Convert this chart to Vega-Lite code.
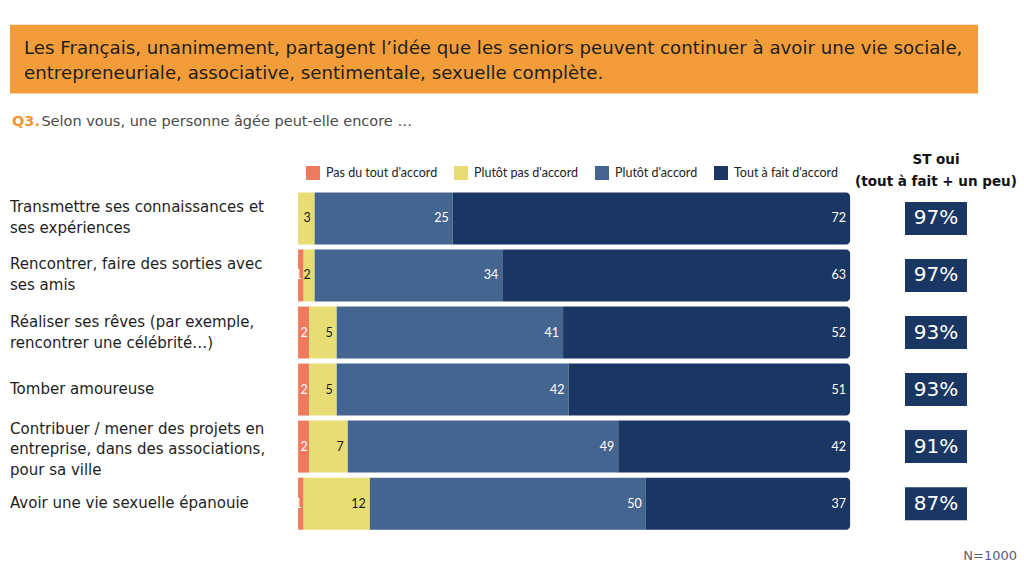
{
  "$schema": "https://vega.github.io/schema/vega-lite/v6.json",
  "width": 1024,
  "height": 576,
  "autosize": {"type": "fit", "contains": "padding"},
  "padding": 0,
  "background": "#ffffff",
  "config": {"view": {"stroke": null}, "text": {"font": "DejaVu Sans"}},
  "datasets": {
    "bars": [
      {"row": 1, "cat": "Plutôt pas d'accord", "rank": 2, "value": 3},
      {"row": 1, "cat": "Plutôt d'accord", "rank": 3, "value": 25},
      {"row": 1, "cat": "Tout à fait d'accord", "rank": 4, "value": 72},
      {"row": 2, "cat": "Pas du tout d'accord", "rank": 1, "value": 1},
      {"row": 2, "cat": "Plutôt pas d'accord", "rank": 2, "value": 2},
      {"row": 2, "cat": "Plutôt d'accord", "rank": 3, "value": 34},
      {"row": 2, "cat": "Tout à fait d'accord", "rank": 4, "value": 63},
      {"row": 3, "cat": "Pas du tout d'accord", "rank": 1, "value": 2},
      {"row": 3, "cat": "Plutôt pas d'accord", "rank": 2, "value": 5},
      {"row": 3, "cat": "Plutôt d'accord", "rank": 3, "value": 41},
      {"row": 3, "cat": "Tout à fait d'accord", "rank": 4, "value": 52},
      {"row": 4, "cat": "Pas du tout d'accord", "rank": 1, "value": 2},
      {"row": 4, "cat": "Plutôt pas d'accord", "rank": 2, "value": 5},
      {"row": 4, "cat": "Plutôt d'accord", "rank": 3, "value": 42},
      {"row": 4, "cat": "Tout à fait d'accord", "rank": 4, "value": 51},
      {"row": 5, "cat": "Pas du tout d'accord", "rank": 1, "value": 2},
      {"row": 5, "cat": "Plutôt pas d'accord", "rank": 2, "value": 7},
      {"row": 5, "cat": "Plutôt d'accord", "rank": 3, "value": 49},
      {"row": 5, "cat": "Tout à fait d'accord", "rank": 4, "value": 42},
      {"row": 6, "cat": "Pas du tout d'accord", "rank": 1, "value": 1},
      {"row": 6, "cat": "Plutôt pas d'accord", "rank": 2, "value": 12},
      {"row": 6, "cat": "Plutôt d'accord", "rank": 3, "value": 50},
      {"row": 6, "cat": "Tout à fait d'accord", "rank": 4, "value": 37}
    ],
    "items": [
      {"row": 1, "lines": 2, "label": "Transmettre ses connaissances et\nses expériences", "st": "97%"},
      {"row": 2, "lines": 2, "label": "Rencontrer, faire des sorties avec\nses amis", "st": "97%"},
      {"row": 3, "lines": 2, "label": "Réaliser ses rêves (par exemple,\nrencontrer une célébrité…)", "st": "93%"},
      {"row": 4, "lines": 1, "label": "Tomber amoureuse", "st": "93%"},
      {"row": 5, "lines": 3, "label": "Contribuer / mener des projets en\nentreprise, dans des associations,\npour sa ville", "st": "91%"},
      {"row": 6, "lines": 1, "label": "Avoir une vie sexuelle épanouie", "st": "87%"}
    ]
  },
  "layer": [
    {
      "data": {"values": [{"box": "header"}]},
      "mark": {"type": "rect", "color": "#F39C3A"},
      "encoding": {
        "x": {"datum": -52.19, "type": "quantitative", "scale": {"domain": [-54, 131.5], "nice": false, "zero": false}, "axis": null},
        "x2": {"datum": 123.17},
        "y": {"datum": -2.396, "type": "quantitative", "scale": {"domain": [-2.74, 7.18], "nice": false, "zero": false, "reverse": true}, "axis": null},
        "y2": {"datum": -1.19}
      }
    },
    {
      "data": {"values": [{"t": "Les Français, unanimement, partagent l’idée que les seniors peuvent continuer à avoir une vie sociale,\nentrepreneuriale, associative, sentimentale, sexuelle complète."}]},
      "mark": {"type": "text", "align": "left", "baseline": "middle", "fontSize": 18.2, "lineHeight": 25, "color": "#1e1e1e", "lineBreak": "\n"},
      "encoding": {
        "x": {"datum": -49.65, "type": "quantitative", "scale": {"domain": [-54, 131.5], "nice": false, "zero": false}, "axis": null},
        "y": {"datum": -1.965, "type": "quantitative", "scale": {"domain": [-2.74, 7.18], "nice": false, "zero": false, "reverse": true}, "axis": null},
        "text": {"field": "t"}
      }
    },
    {
      "data": {"values": [{"t": "Q3."}]},
      "mark": {"type": "text", "align": "left", "baseline": "middle", "fontSize": 14.5, "fontWeight": "bold", "color": "#F0962F"},
      "encoding": {
        "x": {"datum": -51.83, "type": "quantitative", "scale": {"domain": [-54, 131.5], "nice": false, "zero": false}, "axis": null},
        "y": {"datum": -0.691, "type": "quantitative", "scale": {"domain": [-2.74, 7.18], "nice": false, "zero": false, "reverse": true}, "axis": null},
        "text": {"field": "t"}
      }
    },
    {
      "data": {"values": [{"t": "Selon vous, une personne âgée peut-elle encore …"}]},
      "mark": {"type": "text", "align": "left", "baseline": "middle", "fontSize": 14.5, "color": "#4a4a4a"},
      "encoding": {
        "x": {"datum": -46.5, "type": "quantitative", "scale": {"domain": [-54, 131.5], "nice": false, "zero": false}, "axis": null},
        "y": {"datum": -0.691, "type": "quantitative", "scale": {"domain": [-2.74, 7.18], "nice": false, "zero": false, "reverse": true}, "axis": null},
        "text": {"field": "t"}
      }
    },
    {
      "data": {"name": "bars"},
      "transform": [
        {"stack": "value", "groupby": ["row"], "sort": [{"field": "rank", "order": "ascending"}], "as": ["x0", "x1"]},
        {"filter": "datum.rank < 4"}
      ],
      "mark": {"type": "bar", "orient": "horizontal", "size": 52},
      "encoding": {
        "x": {"field": "x0", "type": "quantitative", "scale": {"domain": [-54, 131.5], "nice": false, "zero": false}, "axis": null},
        "x2": {"field": "x1"},
        "y": {"field": "row", "type": "quantitative", "scale": {"domain": [-2.74, 7.18], "nice": false, "zero": false, "reverse": true}, "axis": null},
        "color": {
          "field": "cat", "type": "nominal",
          "scale": {"domain": ["Pas du tout d'accord", "Plutôt pas d'accord", "Plutôt d'accord", "Tout à fait d'accord"], "range": ["#EF7A5D", "#E8DD75", "#44658F", "#1A3763"]},
          "legend": {"orient": "none", "legendX": 306, "legendY": 166, "direction": "horizontal", "title": null, "symbolType": "square", "symbolSize": 196, "symbolStrokeWidth": 0, "labelFont": "Lato", "labelFontSize": 12.5, "labelColor": "#222222", "columnPadding": 16, "labelOffset": 6}
        }
      }
    },
    {
      "data": {"name": "bars"},
      "transform": [
        {"stack": "value", "groupby": ["row"], "sort": [{"field": "rank", "order": "ascending"}], "as": ["x0", "x1"]},
        {"filter": "datum.rank == 4"}
      ],
      "mark": {"type": "bar", "orient": "horizontal", "size": 52, "cornerRadiusTopRight": 4, "cornerRadiusBottomRight": 4},
      "encoding": {
        "x": {"field": "x0", "type": "quantitative", "scale": {"domain": [-54, 131.5], "nice": false, "zero": false}, "axis": null},
        "x2": {"field": "x1"},
        "y": {"field": "row", "type": "quantitative", "scale": {"domain": [-2.74, 7.18], "nice": false, "zero": false, "reverse": true}, "axis": null},
        "color": {"field": "cat", "type": "nominal"}
      }
    },
    {
      "data": {"name": "bars"},
      "transform": [
        {"stack": "value", "groupby": ["row"], "sort": [{"field": "rank", "order": "ascending"}], "as": ["x0", "x1"]},
        {"filter": "datum.rank == 1"}
      ],
      "mark": {"type": "text", "align": "right", "baseline": "middle", "dx": -1.5, "font": "Lato", "fontSize": 12.5, "color": "#ffffff"},
      "encoding": {
        "x": {"field": "x1", "type": "quantitative", "scale": {"domain": [-54, 131.5], "nice": false, "zero": false}, "axis": null},
        "y": {"field": "row", "type": "quantitative", "scale": {"domain": [-2.74, 7.18], "nice": false, "zero": false, "reverse": true}, "axis": null},
        "text": {"field": "value", "type": "quantitative"}
      }
    },
    {
      "data": {"name": "bars"},
      "transform": [
        {"stack": "value", "groupby": ["row"], "sort": [{"field": "rank", "order": "ascending"}], "as": ["x0", "x1"]},
        {"filter": "datum.rank == 2"}
      ],
      "mark": {"type": "text", "align": "right", "baseline": "middle", "dx": -4, "font": "Lato", "fontSize": 12.5, "color": "#1a1a1a"},
      "encoding": {
        "x": {"field": "x1", "type": "quantitative", "scale": {"domain": [-54, 131.5], "nice": false, "zero": false}, "axis": null},
        "y": {"field": "row", "type": "quantitative", "scale": {"domain": [-2.74, 7.18], "nice": false, "zero": false, "reverse": true}, "axis": null},
        "text": {"field": "value", "type": "quantitative"}
      }
    },
    {
      "data": {"name": "bars"},
      "transform": [
        {"stack": "value", "groupby": ["row"], "sort": [{"field": "rank", "order": "ascending"}], "as": ["x0", "x1"]},
        {"filter": "datum.rank >= 3"}
      ],
      "mark": {"type": "text", "align": "right", "baseline": "middle", "dx": -4, "font": "Lato", "fontSize": 12.5, "color": "#ffffff"},
      "encoding": {
        "x": {"field": "x1", "type": "quantitative", "scale": {"domain": [-54, 131.5], "nice": false, "zero": false}, "axis": null},
        "y": {"field": "row", "type": "quantitative", "scale": {"domain": [-2.74, 7.18], "nice": false, "zero": false, "reverse": true}, "axis": null},
        "text": {"field": "value", "type": "quantitative"}
      }
    },
    {
      "data": {"values": [{"t": "ST oui\n(tout à fait + un peu)"}]},
      "mark": {"type": "text", "align": "center", "baseline": "middle", "fontSize": 13.5, "fontWeight": "bold", "lineHeight": 22, "color": "#111111", "lineBreak": "\n"},
      "encoding": {
        "x": {"datum": 115.56, "type": "quantitative", "scale": {"domain": [-54, 131.5], "nice": false, "zero": false}, "axis": null},
        "y": {"datum": -0.019, "type": "quantitative", "scale": {"domain": [-2.74, 7.18], "nice": false, "zero": false, "reverse": true}, "axis": null},
        "text": {"field": "t"}
      }
    },
    {
      "data": {"name": "items"},
      "mark": {"type": "bar", "orient": "horizontal", "size": 33, "color": "#1A3763"},
      "encoding": {
        "x": {"datum": 109.94, "type": "quantitative", "scale": {"domain": [-54, 131.5], "nice": false, "zero": false}, "axis": null},
        "x2": {"datum": 121.17},
        "y": {"field": "row", "type": "quantitative", "scale": {"domain": [-2.74, 7.18], "nice": false, "zero": false, "reverse": true}, "axis": null}
      }
    },
    {
      "data": {"name": "items"},
      "mark": {"type": "text", "align": "center", "baseline": "middle", "fontSize": 20, "color": "#ffffff"},
      "encoding": {
        "x": {"datum": 115.56, "type": "quantitative", "scale": {"domain": [-54, 131.5], "nice": false, "zero": false}, "axis": null},
        "y": {"field": "row", "type": "quantitative", "scale": {"domain": [-2.74, 7.18], "nice": false, "zero": false, "reverse": true}, "axis": null},
        "text": {"field": "st"}
      }
    },
    {
      "data": {"name": "items"},
      "transform": [{"filter": "datum.lines == 1"}],
      "mark": {"type": "text", "align": "left", "baseline": "middle", "dy": -1, "fontSize": 15, "color": "#1e1e1e"},
      "encoding": {
        "x": {"datum": -52.19, "type": "quantitative", "scale": {"domain": [-54, 131.5], "nice": false, "zero": false}, "axis": null},
        "y": {"field": "row", "type": "quantitative", "scale": {"domain": [-2.74, 7.18], "nice": false, "zero": false, "reverse": true}, "axis": null},
        "text": {"field": "label"}
      }
    },
    {
      "data": {"name": "items"},
      "transform": [{"filter": "datum.lines == 2"}],
      "mark": {"type": "text", "align": "left", "baseline": "middle", "dy": -11, "fontSize": 15, "lineHeight": 21, "color": "#1e1e1e", "lineBreak": "\n"},
      "encoding": {
        "x": {"datum": -52.19, "type": "quantitative", "scale": {"domain": [-54, 131.5], "nice": false, "zero": false}, "axis": null},
        "y": {"field": "row", "type": "quantitative", "scale": {"domain": [-2.74, 7.18], "nice": false, "zero": false, "reverse": true}, "axis": null},
        "text": {"field": "label"}
      }
    },
    {
      "data": {"name": "items"},
      "transform": [{"filter": "datum.lines == 3"}],
      "mark": {"type": "text", "align": "left", "baseline": "middle", "dy": -18, "fontSize": 15, "lineHeight": 20.5, "color": "#1e1e1e", "lineBreak": "\n"},
      "encoding": {
        "x": {"datum": -52.19, "type": "quantitative", "scale": {"domain": [-54, 131.5], "nice": false, "zero": false}, "axis": null},
        "y": {"field": "row", "type": "quantitative", "scale": {"domain": [-2.74, 7.18], "nice": false, "zero": false, "reverse": true}, "axis": null},
        "text": {"field": "label"}
      }
    },
    {
      "data": {"values": [{"t": "N=1000"}]},
      "mark": {"type": "text", "align": "right", "baseline": "middle", "fontSize": 13, "color": "#52617C"},
      "encoding": {
        "x": {"datum": 130.23, "type": "quantitative", "scale": {"domain": [-54, 131.5], "nice": false, "zero": false}, "axis": null},
        "y": {"datum": 6.922, "type": "quantitative", "scale": {"domain": [-2.74, 7.18], "nice": false, "zero": false, "reverse": true}, "axis": null},
        "text": {"field": "t"}
      }
    }
  ]
}
